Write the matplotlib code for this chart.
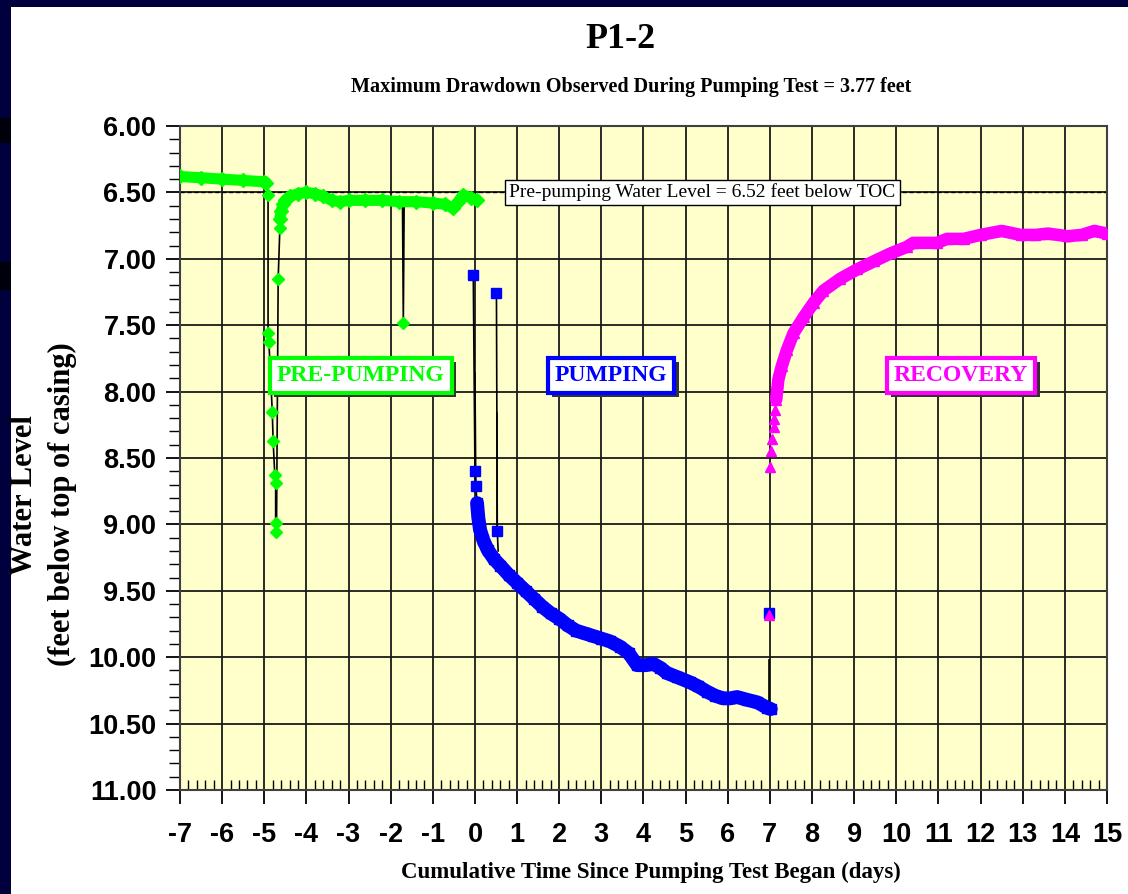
import numpy as np
import matplotlib
matplotlib.use("Agg")
import matplotlib.pyplot as plt
import matplotlib.patches as patches
import matplotlib.patheffects as pe

plt.rcParams['axes.unicode_minus'] = False

#%% datos (tiempo en dias, nivel en pies bajo TOC)

# pre-bombeo: banda continua
pre_t1 = [-7.0, -6.5, -6.0, -5.5, -5.0, -4.95]
pre_v1 = [6.38, 6.39, 6.40, 6.41, 6.42, 6.43]
pre_t2 = [-4.63, -4.6, -4.55, -4.5, -4.4, -4.2, -4.0, -3.8, -3.6, -3.4, -3.2, -3.0,
          -2.6, -2.2, -1.8, -1.4, -1.0, -0.7, -0.52, -0.4, -0.28, -0.1, 0.05]
pre_v2 = [6.70, 6.64, 6.59, 6.56, 6.53, 6.51, 6.50, 6.51, 6.53, 6.56, 6.57, 6.56,
          6.56, 6.56, 6.57, 6.57, 6.58, 6.59, 6.62, 6.57, 6.52, 6.54, 6.56]
# pre-bombeo: puntos sueltos
pre_pt = [-4.91, -4.91, -4.89, -4.81, -4.79, -4.75, -4.73, -4.73, -4.71, -4.67, -4.63, -1.70]
pre_pv = [6.52, 7.56, 7.63, 8.15, 8.37, 8.63, 8.69, 8.99, 9.06, 7.15, 6.77, 7.48]

# bombeo
pump_t = [0.05, 0.08, 0.12, 0.2, 0.3, 0.45, 0.6, 0.8, 1.0, 1.2, 1.4, 1.6, 1.8, 2.0,
          2.2, 2.4, 2.6, 2.8, 3.0, 3.2, 3.44, 3.65, 3.85, 4.05, 4.23, 4.4, 4.56, 4.8,
          5.11, 5.3, 5.51, 5.7, 5.89, 6.05, 6.22, 6.45, 6.7, 6.93, 7.02]
pump_v = [8.84, 8.95, 9.04, 9.12, 9.19, 9.26, 9.31, 9.38, 9.44, 9.50, 9.56, 9.62, 9.67, 9.71,
          9.76, 9.80, 9.82, 9.84, 9.86, 9.88, 9.92, 9.97, 10.06, 10.06, 10.05, 10.08, 10.12, 10.15,
          10.19, 10.22, 10.26, 10.29, 10.31, 10.31, 10.30, 10.32, 10.34, 10.38, 10.39]
pump_pt = [-0.04, 0.0, 0.02, 0.51, 0.53, 6.99]
pump_pv = [7.12, 8.60, 8.71, 7.26, 9.05, 9.67]

# recuperacion
rec_t = [7.15, 7.2, 7.28, 7.4, 7.56, 7.8, 8.04, 8.27, 8.67, 9.07, 9.46, 9.86, 10.25, 10.4,
         10.97, 11.2, 11.6, 12.0, 12.5, 12.95, 13.3, 13.6, 14.06, 14.4, 14.7, 15.0]
rec_v = [8.06, 7.91, 7.81, 7.69, 7.56, 7.44, 7.33, 7.24, 7.15, 7.08, 7.02, 6.96, 6.91, 6.88,
         6.88, 6.85, 6.85, 6.82, 6.79, 6.82, 6.82, 6.81, 6.83, 6.82, 6.79, 6.81]
rec_pt = [6.99, 7.01, 7.03, 7.06, 7.09, 7.10, 7.13]
rec_pv = [9.68, 8.57, 8.45, 8.36, 8.27, 8.21, 8.14]

# trazas negras (lineas finas del transductor)
trazas = [
    ([-4.95, -4.91, -4.91, -4.89, -4.81, -4.79, -4.75, -4.73, -4.73, -4.71, -4.67, -4.63, -4.63],
     [6.43, 6.52, 7.56, 7.63, 8.15, 8.37, 8.63, 8.69, 8.99, 9.06, 7.15, 6.77, 6.70]),
    ([-1.72, -1.70, -1.68], [6.58, 7.48, 6.58]),
    ([-0.04, 0.0, 0.02, 0.05], [7.12, 8.60, 8.71, 8.84]),
    ([0.0, 0.02], [7.86, 8.71]),
    ([0.51, 0.53, 0.55], [7.26, 9.05, 9.20]),
    ([0.53, 0.53], [8.16, 9.05]),
    ([6.97, 6.97], [10.38, 10.02]),
]

nivel_previo = 6.5
verde = '#00FF00'
azul = '#0000FF'
magenta = '#FF00FF'

#%% figura
fig = plt.figure(figsize=(11.28, 8.94), dpi=100)
fig.patch.set_facecolor('white')
# marco oscuro de la diapositiva
marco = '#00003C'
fig.patches.append(patches.Rectangle((0, 1 - 7/894), 1, 7/894, transform=fig.transFigure,
                                     fc=marco, ec='none', zorder=-1))
fig.patches.append(patches.Rectangle((0, 0), 11/1128, 1, transform=fig.transFigure,
                                     fc=marco, ec='none', zorder=-1))
for y0, y1 in [(118, 143), (262, 290)]:
    fig.patches.append(patches.Rectangle((0, 1 - y1/894), 11/1128, (y1 - y0)/894,
                                         transform=fig.transFigure, fc='#00000A', ec='none', zorder=-1))

ax = fig.add_axes([180/1128, 1 - 790/894, 927/1128, 664/894])
ax.set_zorder(2)
ax.set_facecolor('#FFFFCC')
ax.set_xlim(-7, 15)
ax.set_ylim(11, 6)

ax.set_xticks(np.arange(-7, 16, 1))
ax.set_xticks(np.arange(-7, 15.01, 0.2), minor=True)
ax.set_yticks(np.arange(6, 11.01, 0.5))
ax.set_yticks(np.arange(6, 11.01, 0.1), minor=True)
ax.set_yticklabels([f'{v:.2f}' for v in np.arange(6, 11.01, 0.5)])
ax.set_xticklabels([str(v) for v in range(-7, 16)])

for lab in ax.get_xticklabels() + ax.get_yticklabels():
    lab.set_family('Liberation Sans')
    lab.set_fontweight('bold')
    lab.set_fontsize(19.5)

ax.tick_params(axis='y', which='major', direction='out', length=10, width=1.3, pad=7)
ax.tick_params(axis='y', which='minor', direction='out', length=8, width=1)
ax.tick_params(axis='x', which='major', direction='out', length=10, width=1.3, pad=13)
ax.tick_params(axis='x', which='minor', direction='in', length=7, width=1)

ax.grid(which='major', color='#1a1a1a', lw=1.3)
ax.set_axisbelow(True)
for s in ax.spines.values():
    s.set_color('#404040')
    s.set_linewidth(1.5)

# linea de nivel previo
ax.axhline(nivel_previo, color='black', lw=1, ls=(0, (3, 2)), zorder=2)

# trazas negras
for tt, vv in trazas:
    ax.plot(tt, vv, color='black', lw=1.2, zorder=3)

# bandas gruesas
kw = dict(solid_capstyle='round', solid_joinstyle='round', zorder=4)
ax.plot(pre_t1, pre_v1, color=verde, lw=8, **kw)
ax.plot(pre_t2, pre_v2, color=verde, lw=8, **kw)
ax.plot(pump_t, pump_v, color=azul, lw=10, **kw)
ax.plot(rec_t, rec_v, color=magenta, lw=9, **kw)

# marcadores
ax.plot(pre_t1 + pre_t2, pre_v1 + pre_v2, 'D', color=verde, ms=7, zorder=5)
ax.plot(pre_pt, pre_pv, 'D', color=verde, ms=6.5, zorder=5)
ax.plot(pump_t, pump_v, 's', color=azul, ms=7, zorder=5)
ax.plot(pump_pt, pump_pv, 's', color=azul, ms=7, zorder=5)
ax.plot(rec_t, rec_v, '^', color=magenta, ms=7, zorder=6)
ax.plot(rec_pt, rec_pv, '^', color=magenta, ms=7, zorder=6)

# etiqueta nivel previo
ax.text(5.4, nivel_previo, 'Pre-pumping Water Level = 6.52 feet below TOC',
        family='Liberation Serif', fontsize=14, ha='center', va='center', zorder=8,
        bbox=dict(boxstyle='square,pad=0.2', fc='white', ec='black', lw=1))

# etiquetas de fase con sombra
fases = [(-2.71, 'PRE-PUMPING', verde), (3.23, 'PUMPING', azul), (11.54, 'RECOVERY', magenta)]
for xf, txt, col in fases:
    t = ax.text(xf, 7.88, txt, color=col, family='Liberation Serif', fontweight='bold',
                fontsize=17, ha='center', va='center', zorder=9,
                bbox=dict(boxstyle='square,pad=0.3', fc='white', ec=col, lw=3))
    t.get_bbox_patch().set_path_effects([
        pe.SimplePatchShadow(offset=(3, -3), shadow_rgbFace='#333333', alpha=1), pe.Normal()])

# titulos
fig.text(620/1128, 1 - 40/894, 'P1-2', ha='center', va='center',
         family='Liberation Serif', fontweight='bold', fontsize=26)
fig.text(631/1128, 1 - 87/894, 'Maximum Drawdown Observed During Pumping Test = 3.77 feet',
         ha='center', va='center', family='Liberation Serif', fontweight='bold', fontsize=14.5)
fig.text(651/1128, 1 - 872/894, 'Cumulative Time Since Pumping Test Began (days)',
         ha='center', va='center', family='Liberation Serif', fontweight='bold', fontsize=16.5)
fig.text(25/1128, 1 - 495/894, 'Water Level', rotation=90, ha='center', va='center',
         family='Liberation Serif', fontweight='bold', fontsize=22)
fig.text(62/1128, 1 - 504/894, '(feet below top of casing)', rotation=90, ha='center', va='center',
         family='Liberation Serif', fontweight='bold', fontsize=22)

fig.savefig('out.png', dpi=100, facecolor=fig.get_facecolor())
